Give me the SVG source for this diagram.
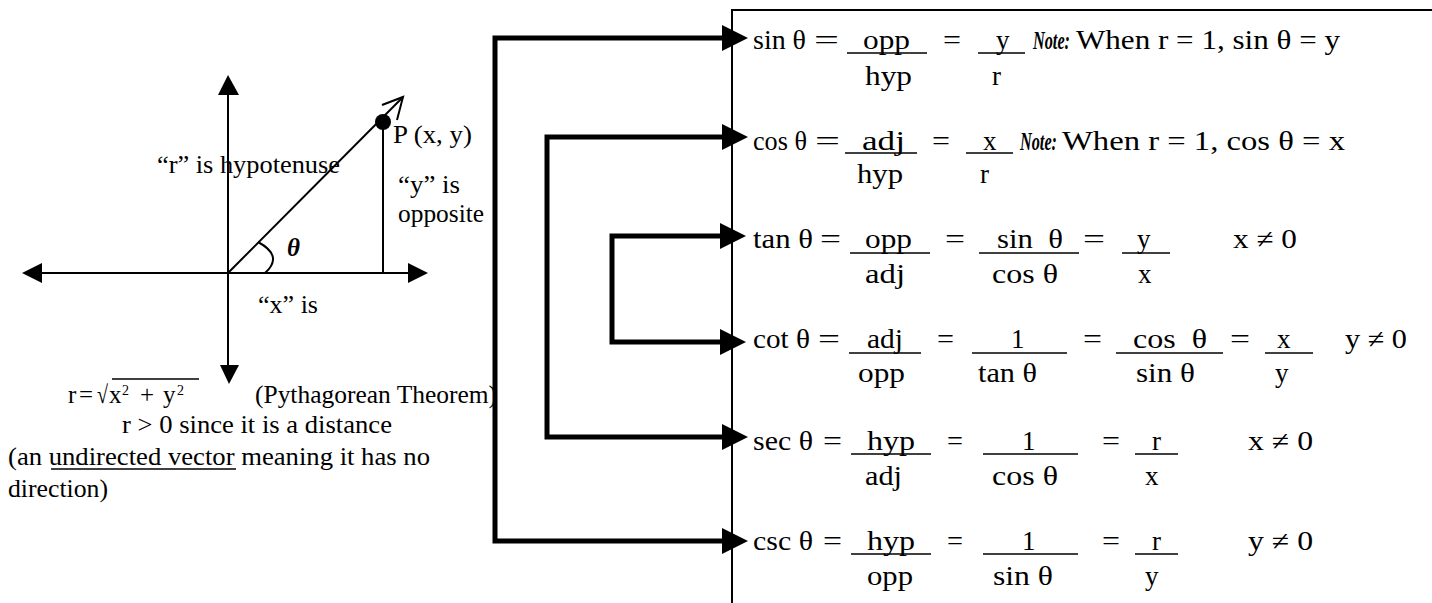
<svg xmlns="http://www.w3.org/2000/svg" width="1432" height="603" viewBox="0 0 1432 603">
<style>
text{font-family:"Liberation Serif","Times New Roman",serif;font-size:25px;fill:#000}
.r text{font-size:27px}
.r text.b{font-size:25px}
.b{font-weight:bold;font-style:italic}
.sup{font-size:14px}
.th{font-size:25px}
.ax{stroke:#000;stroke-width:2;fill:none}
.fr{stroke:#000;stroke-width:1.5}
.con{stroke:#000;stroke-width:5;fill:none;stroke-linejoin:miter;marker-start:url(#ah);marker-end:url(#ah)}
</style>
<defs>
<marker id="ah" markerUnits="userSpaceOnUse" viewBox="0 0 26 26" refX="0" refY="13" markerWidth="26" markerHeight="26" orient="auto-start-reverse">
<path d="M0,0 L26,13 L0,26 z" fill="#000"/>
</marker>
</defs>
<rect width="1432" height="603" fill="#fff"/>

<g id="axes">
<line class="ax" x1="228" y1="92" x2="228" y2="367"/>
<line class="ax" x1="40" y1="273" x2="410" y2="273"/>
<polygon points="228,75 218,95 239,95" fill="#000"/>
<polygon points="229,384 220,365 239,365" fill="#000"/>
<polygon points="22,273 42,263 42,283" fill="#000"/>
<polygon points="428,273 408,263 408,283" fill="#000"/>
</g>

<g id="triangle">
<line class="ax" x1="228" y1="273" x2="403" y2="97"/>
<polyline class="ax" points="382,105 403,97 397,120"/>
<line class="ax" x1="383" y1="122" x2="383" y2="273"/>
<circle cx="383" cy="122" r="8" fill="#000"/>
<path class="ax" d="M265,273 Q284,256 258,242"/>
<text class="b th" x="287" y="256">θ</text>
</g>

<g id="labels">
<text x="157" y="173" textLength="183" lengthAdjust="spacingAndGlyphs">“r” is hypotenuse</text>
<text x="393" y="143" textLength="79" lengthAdjust="spacingAndGlyphs">P (x, y)</text>
<text x="398" y="193" textLength="62" lengthAdjust="spacingAndGlyphs">“y” is</text>
<text x="398" y="222" textLength="86" lengthAdjust="spacingAndGlyphs">opposite</text>
<text x="258" y="313" textLength="60" lengthAdjust="spacingAndGlyphs">“x” is</text>
</g>

<g id="pythagoras">
<text x="68" y="403">r</text>
<text x="79" y="403" textLength="14" lengthAdjust="spacingAndGlyphs">=</text>
<text x="97" y="403" textLength="11" lengthAdjust="spacingAndGlyphs">√</text>
<line class="fr" x1="112" y1="379" x2="199" y2="379"/>
<text x="109" y="403">x</text>
<text class="sup" x="122" y="395">2</text>
<text x="140" y="403">+</text>
<text x="163" y="403">y</text>
<text class="sup" x="177" y="395">2</text>
<text x="255" y="403" textLength="242" lengthAdjust="spacingAndGlyphs">(Pythagorean Theorem)</text>
<text x="122" y="433" textLength="270" lengthAdjust="spacingAndGlyphs">r &gt; 0 since it is a distance</text>
<text x="8" y="465" textLength="422" lengthAdjust="spacingAndGlyphs">(an undirected vector meaning it has no</text>
<line class="fr" x1="51" y1="469" x2="236" y2="469"/>
<text x="8" y="497" textLength="100" lengthAdjust="spacingAndGlyphs">direction)</text>
</g>

<g id="box">
<path d="M732,603 V10 H1432" fill="none" stroke="#000" stroke-width="2"/>
</g>

<g id="connectors">
<path class="con" d="M722,38 H495 V541 H722"/>
<path class="con" d="M722,137 H547 V437 H722"/>
<path class="con" d="M720,236 H612 V342 H720"/>
</g>

<g id="sin" class="r">
<text x="753" y="49" textLength="53" lengthAdjust="spacingAndGlyphs">sin θ</text>
<text x="814" y="49" textLength="25" lengthAdjust="spacingAndGlyphs">=</text>
<line class="fr" x1="847" y1="53" x2="927" y2="53"/>
<text x="863" y="49" textLength="47" lengthAdjust="spacingAndGlyphs">opp</text>
<text x="865" y="85" textLength="47" lengthAdjust="spacingAndGlyphs">hyp</text>
<text x="943" y="49" textLength="18" lengthAdjust="spacingAndGlyphs">=</text>
<line class="fr" x1="978" y1="53" x2="1025" y2="53"/>
<text x="996" y="49">y</text>
<text x="992" y="85">r</text>
<text class="b" x="1033" y="49" textLength="37" lengthAdjust="spacingAndGlyphs">Note:</text>
<text x="1076" y="49" textLength="264" lengthAdjust="spacingAndGlyphs">When r = 1, sin θ = y</text>
</g>

<g id="cos" class="r">
<text x="753" y="150" textLength="54" lengthAdjust="spacingAndGlyphs">cos θ</text>
<text x="815" y="150" textLength="25" lengthAdjust="spacingAndGlyphs">=</text>
<line class="fr" x1="845" y1="153" x2="917" y2="153"/>
<text x="862" y="150" textLength="43" lengthAdjust="spacingAndGlyphs">adj</text>
<text x="857" y="183" textLength="46" lengthAdjust="spacingAndGlyphs">hyp</text>
<text x="932" y="150" textLength="18" lengthAdjust="spacingAndGlyphs">=</text>
<line class="fr" x1="966" y1="153" x2="1013" y2="153"/>
<text x="983" y="150">x</text>
<text x="980" y="183">r</text>
<text class="b" x="1020" y="150" textLength="37" lengthAdjust="spacingAndGlyphs">Note:</text>
<text x="1062" y="150" textLength="283" lengthAdjust="spacingAndGlyphs">When r = 1, cos θ = x</text>
</g>

<g id="tan" class="r">
<text x="753" y="248" textLength="60" lengthAdjust="spacingAndGlyphs">tan θ</text>
<text x="820" y="248" textLength="21" lengthAdjust="spacingAndGlyphs">=</text>
<line class="fr" x1="850" y1="253" x2="930" y2="253"/>
<text x="865" y="248" textLength="47" lengthAdjust="spacingAndGlyphs">opp</text>
<text x="865" y="283" textLength="40" lengthAdjust="spacingAndGlyphs">adj</text>
<text x="945" y="248" textLength="20" lengthAdjust="spacingAndGlyphs">=</text>
<line class="fr" x1="979" y1="253" x2="1079" y2="253"/>
<text x="997" y="248" textLength="66" lengthAdjust="spacingAndGlyphs">sin&#160; θ</text>
<text x="992" y="283" textLength="66" lengthAdjust="spacingAndGlyphs">cos θ</text>
<text x="1083" y="248" textLength="22" lengthAdjust="spacingAndGlyphs">=</text>
<line class="fr" x1="1122" y1="253" x2="1170" y2="253"/>
<text x="1137" y="248">y</text>
<text x="1138" y="283">x</text>
<text x="1233" y="248" textLength="64" lengthAdjust="spacingAndGlyphs">x ≠ 0</text>
</g>

<g id="cot" class="r">
<text x="753" y="348" textLength="57" lengthAdjust="spacingAndGlyphs">cot θ</text>
<text x="818" y="348" textLength="22" lengthAdjust="spacingAndGlyphs">=</text>
<line class="fr" x1="849" y1="353" x2="921" y2="353"/>
<text x="867" y="348" textLength="36" lengthAdjust="spacingAndGlyphs">adj</text>
<text x="858" y="382" textLength="47" lengthAdjust="spacingAndGlyphs">opp</text>
<text x="937" y="348" textLength="17" lengthAdjust="spacingAndGlyphs">=</text>
<line class="fr" x1="972" y1="353" x2="1067" y2="353"/>
<text x="1011" y="348">1</text>
<text x="978" y="382" textLength="59" lengthAdjust="spacingAndGlyphs">tan θ</text>
<text x="1083" y="348" textLength="19" lengthAdjust="spacingAndGlyphs">=</text>
<line class="fr" x1="1116" y1="353" x2="1223" y2="353"/>
<text x="1133" y="348" textLength="74" lengthAdjust="spacingAndGlyphs">cos&#160; θ</text>
<text x="1136" y="382" textLength="59" lengthAdjust="spacingAndGlyphs">sin θ</text>
<text x="1230" y="348" textLength="20" lengthAdjust="spacingAndGlyphs">=</text>
<line class="fr" x1="1265" y1="353" x2="1313" y2="353"/>
<text x="1277" y="348">x</text>
<text x="1275" y="382">y</text>
<text x="1345" y="348" textLength="62" lengthAdjust="spacingAndGlyphs">y ≠ 0</text>
</g>

<g id="sec" class="r">
<text x="753" y="450" textLength="60" lengthAdjust="spacingAndGlyphs">sec θ</text>
<text x="823" y="450" textLength="19" lengthAdjust="spacingAndGlyphs">=</text>
<line class="fr" x1="851" y1="454" x2="931" y2="454"/>
<text x="867" y="450" textLength="48" lengthAdjust="spacingAndGlyphs">hyp</text>
<text x="865" y="485" textLength="37" lengthAdjust="spacingAndGlyphs">adj</text>
<text x="947" y="450" textLength="16" lengthAdjust="spacingAndGlyphs">=</text>
<line class="fr" x1="983" y1="454" x2="1078" y2="454"/>
<text x="1022" y="450">1</text>
<text x="992" y="485" textLength="66" lengthAdjust="spacingAndGlyphs">cos θ</text>
<text x="1102" y="450" textLength="18" lengthAdjust="spacingAndGlyphs">=</text>
<line class="fr" x1="1135" y1="454" x2="1178" y2="454"/>
<text x="1152" y="450">r</text>
<text x="1145" y="485">x</text>
<text x="1248" y="450" textLength="65" lengthAdjust="spacingAndGlyphs">x ≠ 0</text>
</g>

<g id="csc" class="r">
<text x="753" y="550" textLength="60" lengthAdjust="spacingAndGlyphs">csc θ</text>
<text x="823" y="550" textLength="19" lengthAdjust="spacingAndGlyphs">=</text>
<line class="fr" x1="851" y1="554" x2="931" y2="554"/>
<text x="867" y="550" textLength="48" lengthAdjust="spacingAndGlyphs">hyp</text>
<text x="867" y="585" textLength="46" lengthAdjust="spacingAndGlyphs">opp</text>
<text x="947" y="550" textLength="16" lengthAdjust="spacingAndGlyphs">=</text>
<line class="fr" x1="983" y1="554" x2="1078" y2="554"/>
<text x="1022" y="550">1</text>
<text x="993" y="585" textLength="60" lengthAdjust="spacingAndGlyphs">sin θ</text>
<text x="1102" y="550" textLength="18" lengthAdjust="spacingAndGlyphs">=</text>
<line class="fr" x1="1135" y1="554" x2="1178" y2="554"/>
<text x="1152" y="550">r</text>
<text x="1145" y="585">y</text>
<text x="1248" y="550" textLength="65" lengthAdjust="spacingAndGlyphs">y ≠ 0</text>
</g>
</svg>
